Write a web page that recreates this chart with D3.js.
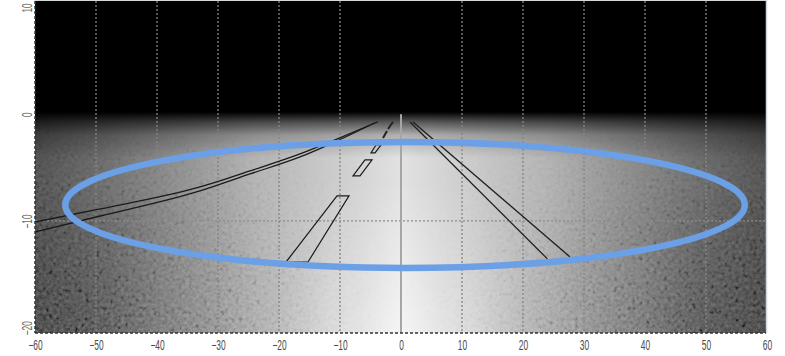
<!DOCTYPE html>
<html>
<head>
<meta charset="utf-8">
<script src="https://cdn.jsdelivr.net/npm/d3@7"></script>
<style>
  html, body { margin: 0; padding: 0; background: #fff; }
  svg { display: block; }
  .tick text { font-family: "Liberation Sans", Arial, sans-serif; }
</style>
</head>
<body>
<div id="chart"></div>
<script>
// tick labels and grid positions
const xTicks = [-60, -50, -40, -30, -20, -10, 0, 10, 20, 30, 40, 50, 60];
const yTicks = [10, 0, -10, -20];
const xGrid = [-50, -40, -30, -20, -10, 10, 20, 30, 40, 50];
const yGrid = [-10];

// road markings, in plot units (x lateral, y longitudinal)
const leftEdgeUpper = [[-60, -10.1], [-49.3, -8.88], [-32.95, -6.82], [-24.75, -5.32], [-16.56, -3.73], [-10.82, -2.4], [-3.77, -0.71]];
const leftEdgeLower = [[-60, -11.03], [-49.3, -9.54], [-32.95, -7.19], [-24.75, -5.6], [-16.56, -4.01], [-10.82, -2.59], [-4.26, -0.8]];
const rightEdgeInner = [[1.48, -0.73], [24.0, -13.56]];
const rightEdgeOuter = [[1.97, -0.73], [27.7, -13.37]];
const laneDashes = [
  [[-10.49, -7.66], [-8.52, -7.66], [-15.25, -13.85], [-18.85, -13.85]],
  [[-5.9, -4.29], [-4.75, -4.29], [-6.72, -5.79], [-7.87, -5.79]],
  [[-4.1, -2.89], [-3.28, -2.89], [-4.26, -3.63], [-4.92, -3.63]]
];
const laneTicks = [
  [[-2.95, -2.23], [-2.3, -1.57]],
  [[-2.13, -1.39], [-1.31, -0.71]]
];

// highlighted region
const ellipseCenter = [0.66, -8.5];
const ellipseRadii = [55.7, 5.9];

const W = 785, H = 356;
const plot = { left: 35, right: 767, top: 1, bottom: 333 };

const x = d3.scaleLinear().domain([-60, 60]).range([plot.left, plot.right]);
const y = d3.scaleLinear().domain([-20.5, 10.6]).range([plot.bottom, plot.top]);

const svg = d3.select('#chart').append('svg')
  .attr('width', W).attr('height', H);

const defs = svg.append('defs');

defs.append('clipPath').attr('id', 'plotClip')
  .append('rect')
  .attr('x', plot.left).attr('y', plot.top)
  .attr('width', 766 - plot.left).attr('height', plot.bottom - plot.top);

// horizontal brightness profiles, top rows and bottom rows
function hGrad(id, stops) {
  const g = defs.append('linearGradient').attr('id', id)
    .attr('gradientUnits', 'userSpaceOnUse')
    .attr('x1', plot.left).attr('x2', plot.right).attr('y1', 0).attr('y2', 0);
  stops.forEach(s => g.append('stop').attr('offset', s[0]).attr('stop-color', s[1]));
}
hGrad('bottomRows', [[0, '#1c1c1c'], [0.09, '#3c3c3c'], [0.17, '#6c6c6c'], [0.3, '#aeaeae'], [0.4, '#dcdcdc'], [0.5, '#f6f6f6'],
  [0.6, '#dcdcdc'], [0.7, '#aeaeae'], [0.83, '#6c6c6c'], [0.91, '#3c3c3c'], [1, '#1c1c1c']]);
hGrad('topRows', [[0, '#484848'], [0.09, '#666'], [0.3, '#b4b4b4'], [0.5, '#e2e2e2'],
  [0.7, '#b4b4b4'], [0.91, '#666'], [1, '#484848']]);

function vGrad(id, stops, y1, y2) {
  const g = defs.append('linearGradient').attr('id', id)
    .attr('gradientUnits', 'userSpaceOnUse')
    .attr('x1', 0).attr('x2', 0).attr('y1', y1).attr('y2', y2);
  stops.forEach(s => g.append('stop').attr('offset', s[0]).attr('stop-color', s[1]).attr('stop-opacity', s[2] == null ? 1 : s[2]));
}
vGrad('topBlend', [[0, '#fff'], [0.3, '#fff'], [1, '#000']], 120, 333);
vGrad('darkFade', [[0, '#000', 1], [0.22, '#000', 0.6], [0.5, '#000', 0.22], [1, '#000', 0]], 112, 158);
vGrad('noiseV', [[0, '#000'], [0.25, '#555'], [1, '#fff']], 115, 333);
hGrad('noiseH', [[0, '#fff'], [0.25, '#aaa'], [0.42, '#222'], [0.5, '#000'], [0.58, '#222'], [0.75, '#aaa'], [1, '#fff']]);

defs.append('mask').attr('id', 'topMask')
  .append('rect').attr('x', 0).attr('y', 0).attr('width', W).attr('height', H).attr('fill', 'url(#topBlend)');
defs.append('mask').attr('id', 'noiseMaskV')
  .append('rect').attr('x', 0).attr('y', 0).attr('width', W).attr('height', H).attr('fill', 'url(#noiseV)');
defs.append('mask').attr('id', 'noiseMaskH')
  .append('rect').attr('x', 0).attr('y', 0).attr('width', W).attr('height', H).attr('fill', 'url(#noiseH)');

const noise = defs.append('filter').attr('id', 'grain')
  .attr('x', 0).attr('y', 0).attr('width', '100%').attr('height', '100%');
noise.append('feTurbulence').attr('type', 'fractalNoise').attr('baseFrequency', 0.28)
  .attr('numOctaves', 2).attr('seed', 7);
noise.append('feColorMatrix').attr('type', 'matrix')
  .attr('values', '0.33 0.33 0.33 0 0  0.33 0.33 0.33 0 0  0.33 0.33 0.33 0 0  0 0 0 0 1');
const ct = noise.append('feComponentTransfer');
['feFuncR', 'feFuncG', 'feFuncB'].forEach(f =>
  ct.append(f).attr('type', 'linear').attr('slope', 2.6).attr('intercept', -0.8));
noise.append('feGaussianBlur').attr('stdDeviation', 0.6);

// background image
const bg = svg.append('g').attr('clip-path', 'url(#plotClip)');
bg.append('rect').attr('x', plot.left).attr('y', plot.top)
  .attr('width', plot.right - plot.left).attr('height', plot.bottom - plot.top)
  .attr('fill', 'url(#bottomRows)');
bg.append('rect').attr('x', plot.left).attr('y', plot.top)
  .attr('width', plot.right - plot.left).attr('height', plot.bottom - plot.top)
  .attr('fill', 'url(#topRows)').attr('mask', 'url(#topMask)');
bg.append('g').attr('mask', 'url(#noiseMaskV)')
  .append('rect').attr('x', plot.left).attr('y', plot.top)
  .attr('width', plot.right - plot.left).attr('height', plot.bottom - plot.top)
  .attr('filter', 'url(#grain)').attr('mask', 'url(#noiseMaskH)').attr('opacity', 0.35);
bg.append('rect').attr('x', plot.left).attr('y', plot.top)
  .attr('width', plot.right - plot.left).attr('height', plot.bottom - plot.top)
  .attr('fill', 'url(#darkFade)');

// grid
const grid = svg.append('g').attr('clip-path', 'url(#plotClip)');
grid.selectAll('.vgrid').data(xGrid).enter().append('line')
  .attr('class', 'vgrid')
  .attr('x1', d => x(d)).attr('x2', d => x(d))
  .attr('y1', plot.top).attr('y2', plot.bottom)
  .attr('stroke', '#858585').attr('stroke-width', 1.3).attr('stroke-dasharray', '2,2');
grid.selectAll('.hgrid').data(yGrid).enter().append('line')
  .attr('class', 'hgrid')
  .attr('x1', plot.left).attr('x2', plot.right)
  .attr('y1', d => y(d)).attr('y2', d => y(d))
  .attr('stroke', '#8c8c8c').attr('stroke-width', 1.3).attr('stroke-dasharray', '2,2');
grid.append('line')
  .attr('x1', x(0)).attr('x2', x(0))
  .attr('y1', y(0)).attr('y2', plot.bottom)
  .attr('stroke', '#a6a6a6').attr('stroke-width', 2);

// road markings
const road = svg.append('g').attr('clip-path', 'url(#plotClip)');
const curve = d3.line().x(d => x(d[0])).y(d => y(d[1])).curve(d3.curveMonotoneX);
const straight = d3.line().x(d => x(d[0])).y(d => y(d[1]));

road.selectAll('.edge').data([leftEdgeUpper, leftEdgeLower]).enter().append('path')
  .attr('class', 'edge').attr('d', curve)
  .attr('fill', 'none').attr('stroke', '#1a1a1a').attr('stroke-width', 1.3);
road.selectAll('.redge').data([rightEdgeInner, rightEdgeOuter]).enter().append('path')
  .attr('class', 'redge').attr('d', straight)
  .attr('fill', 'none').attr('stroke', '#1e1e1e').attr('stroke-width', 1.3);
road.selectAll('.dash').data(laneDashes).enter().append('path')
  .attr('class', 'dash').attr('d', d => straight(d) + 'Z')
  .attr('fill', 'none').attr('stroke', '#1a1a1a').attr('stroke-width', 1.2);
road.selectAll('.tickmark').data(laneTicks).enter().append('path')
  .attr('class', 'tickmark').attr('d', straight)
  .attr('fill', 'none').attr('stroke', '#222').attr('stroke-width', 2);

// highlighted region
svg.append('ellipse')
  .attr('cx', x(ellipseCenter[0])).attr('cy', y(ellipseCenter[1]))
  .attr('rx', x(ellipseCenter[0] + ellipseRadii[0]) - x(ellipseCenter[0]))
  .attr('ry', y(ellipseCenter[1] - ellipseRadii[1]) - y(ellipseCenter[1]))
  .attr('fill', 'none').attr('stroke', '#6b9fe6').attr('stroke-width', 6.5);

// frame
svg.append('line').attr('x1', plot.left).attr('x2', 766).attr('y1', 0.5).attr('y2', 0.5)
  .attr('stroke', '#d8d8d8');
svg.append('line').attr('x1', 766.5).attr('x2', 766.5).attr('y1', 0).attr('y2', plot.bottom)
  .attr('stroke', '#cfd6dc').attr('stroke-width', 1.5);
svg.append('line').attr('x1', plot.left).attr('x2', plot.left).attr('y1', plot.top).attr('y2', plot.bottom)
  .attr('stroke', '#333').attr('stroke-width', 1.5).attr('stroke-dasharray', '3,2');
svg.append('line').attr('x1', plot.left).attr('x2', 766).attr('y1', plot.bottom).attr('y2', plot.bottom)
  .attr('stroke', '#333').attr('stroke-width', 1.5).attr('stroke-dasharray', '3,2');

// axes
const xAxis = svg.append('g')
  .attr('transform', `translate(0,${plot.bottom})`)
  .call(d3.axisBottom(x).tickValues(xTicks).tickSize(0).tickFormat(d3.format('d')));
xAxis.select('.domain').remove();
xAxis.selectAll('text')
  .attr('y', 17).attr('dy', 0)
  .attr('font-size', 14).attr('fill', '#4a4a4a')
  .attr('transform', 'scale(0.6,1)');

const yAxis = svg.append('g')
  .attr('transform', `translate(${plot.left},0)`)
  .call(d3.axisLeft(y).tickValues(yTicks).tickSize(0).tickFormat(d3.format('d')));
yAxis.select('.domain').remove();
yAxis.selectAll('text')
  .attr('x', 0).attr('y', 0).attr('dy', 0)
  .attr('text-anchor', 'middle')
  .attr('font-size', 14).attr('fill', '#6a6a6a')
  .attr('transform', 'translate(-3,0) rotate(-90) scale(0.6,1)');
</script>
</body>
</html>
